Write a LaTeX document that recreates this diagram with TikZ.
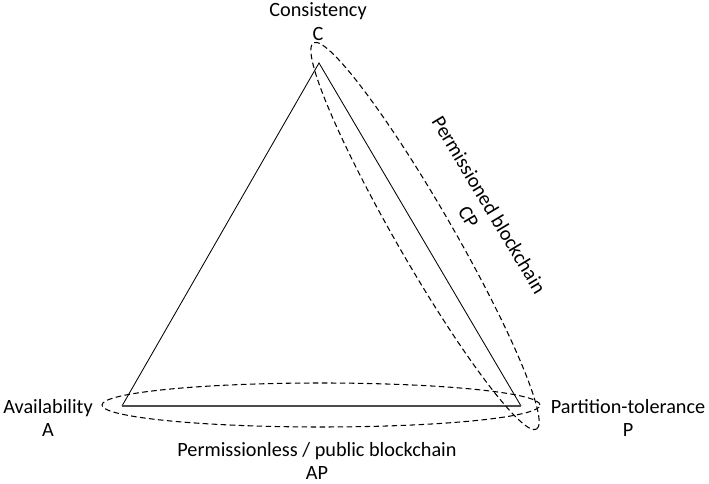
\documentclass[tikz,border=0pt]{standalone}
\usepackage{fontspec}
\setmainfont{Carlito}
\usepackage{tikz}
\usetikzlibrary{positioning}

\begin{document}
\begin{tikzpicture}[
            x=0.025cm, y=0.025cm,
            lato/.style={line width=0.6pt},
            base/.style={line width=1.1pt, black!70},
            insieme/.style={line width=0.75pt, dash pattern=on 4pt off 2.4pt},
            etichetta/.style={align=center, inner sep=0pt, font=\fontsize{14.4}{17}\selectfont}
        ]

        \useasboundingbox (0,0) rectangle (709,484);

        % Vertici del triangolo
        \coordinate (c) at (319,421);
        \coordinate (a) at (122,78);
        \coordinate (p) at (521,78);

        % Lati
        \draw[lato] (a) -- (c) -- (p);
        \draw[base] (a) -- (p);

        % Insiemi AP e CP
        \coordinate (ap) at (321,79);
        \coordinate (cp) at (425,248);
        \draw[insieme] (ap) ellipse [x radius=219, y radius=22];
        \draw[insieme, rotate around={-60:(cp)}] (cp) ellipse [x radius=223, y radius=28];

        % Etichette dei vertici
        \node[etichetta] (lc) at (318,462) {Consistency\\C};
        \node[etichetta] (la) at (48,66) {Availability\\A};
        \node[etichetta] (lp) at (628,66) {Partition-tolerance\\P};

        % Etichette degli insiemi
        \node[etichetta] (lap) at (317,23) {Permissionless / public blockchain\\AP};
        \node[etichetta, rotate=-59] (lcp) at (479,273) {Permissioned blockchain\\CP};

\end{tikzpicture}
\end{document}
